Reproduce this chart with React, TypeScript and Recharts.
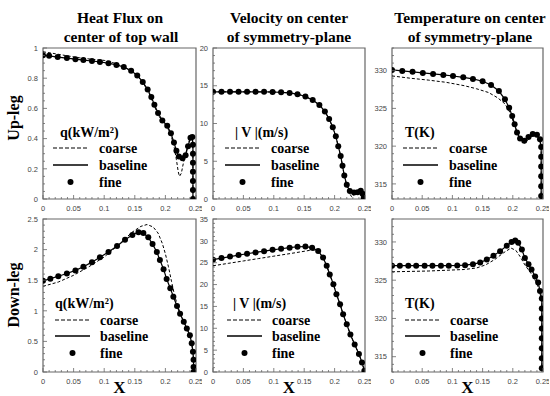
import React from "react";
import { LineChart, Line, XAxis, YAxis, ReferenceArea } from "recharts";

type Pt = [number, number];

// shared x axis (distance along the leg)
const xMajor = [0, 0.05, 0.1, 0.15, 0.2, 0.25];
const xLabels = ["0", "0.05", "0.1", "0.15", "0.2", "0.25"];

// y ticks per panel
const qUpTicks = [0, 0.2, 0.4, 0.6, 0.8, 1];
const qUpLabels = ["0", "0.2", "0.4", "0.6", "0.8", "1"];
const vUpTicks = [0, 5, 10, 15, 20];
const vUpLabels = ["0", "5", "10", "15", "20"];
const tTicks = [315, 320, 325, 330];
const tLabels = ["315", "320", "325", "330"];
const qDownTicks = [0, 0.5, 1, 1.5, 2, 2.5];
const qDownLabels = ["0", "0.5", "1", "1.5", "2", "2.5"];
const vDownTicks = [0, 5, 10, 15, 20, 25, 30, 35];
const vDownLabels = ["0", "5", "10", "15", "20", "25", "30", "35"];

// Up-leg heat flux q (kW/m2)
const upQCoarse: Pt[] = [
  [0, 0.975], [0.02, 0.962], [0.04, 0.948], [0.06, 0.935], [0.08, 0.925], [0.1, 0.918],
  [0.12, 0.896], [0.14, 0.858], [0.155, 0.812], [0.165, 0.76], [0.175, 0.685], [0.183, 0.605],
  [0.19, 0.545], [0.2, 0.49], [0.208, 0.44], [0.214, 0.35], [0.218, 0.26], [0.221, 0.18],
  [0.223, 0.15], [0.226, 0.17], [0.23, 0.25], [0.235, 0.33], [0.24, 0.4], [0.244, 0.41],
  [0.245, 0.3], [0.245, 0],
];
const upQFine: Pt[] = [
  [0, 0.952], [0.01, 0.948], [0.024, 0.94], [0.039, 0.933], [0.053, 0.926], [0.066, 0.92],
  [0.08, 0.914], [0.093, 0.908], [0.107, 0.899], [0.12, 0.888], [0.132, 0.874], [0.144, 0.85],
  [0.154, 0.818], [0.163, 0.775], [0.171, 0.725], [0.177, 0.675], [0.182, 0.625], [0.188, 0.57],
  [0.195, 0.52], [0.203, 0.485], [0.209, 0.435], [0.214, 0.375], [0.218, 0.32], [0.222, 0.282],
  [0.228, 0.27], [0.233, 0.29], [0.237, 0.35], [0.241, 0.405], [0.244, 0.41], [0.245, 0.36],
  [0.245, 0.3], [0.245, 0.24], [0.245, 0.18], [0.245, 0.12], [0.245, 0.06], [0.245, 0],
];

// Up-leg velocity |V| (m/s)
const upVCoarse: Pt[] = [
  [0, 14.2], [0.03, 14.2], [0.06, 14.2], [0.09, 14.18], [0.112, 14.13], [0.126, 14.05],
  [0.139, 13.88], [0.152, 13.58], [0.164, 13.1], [0.175, 12.45], [0.184, 11.6], [0.191, 10.6],
  [0.197, 9.5], [0.202, 8.3], [0.206, 7.0], [0.21, 5.7], [0.213, 4.4], [0.216, 3.0],
  [0.22, 1.8], [0.224, 0.8], [0.228, 0.3], [0.233, 0.6], [0.238, 0.85], [0.243, 1.05],
  [0.246, 0.6], [0.248, 0],
];
const upVFine: Pt[] = [
  [0, 14.2], [0.014, 14.2], [0.028, 14.2], [0.042, 14.2], [0.056, 14.2], [0.07, 14.2],
  [0.084, 14.19], [0.098, 14.17], [0.112, 14.13], [0.126, 14.05], [0.139, 13.88], [0.152, 13.58],
  [0.164, 13.1], [0.175, 12.45], [0.184, 11.6], [0.191, 10.6], [0.197, 9.5], [0.202, 8.3],
  [0.206, 7.0], [0.21, 5.7], [0.213, 4.4], [0.216, 3.1], [0.22, 1.9], [0.225, 1.05],
  [0.232, 0.85], [0.238, 0.9], [0.243, 1.1], [0.246, 0.7], [0.248, 0.2], [0.248, 0],
];

// Up-leg temperature T (K)
const upTCoarse: Pt[] = [
  [0, 329.3], [0.03, 329.0], [0.06, 328.75], [0.09, 328.45], [0.12, 328.0], [0.14, 327.6],
  [0.16, 327.1], [0.175, 326.4], [0.187, 325.6], [0.195, 324.5], [0.202, 323.0], [0.208, 321.6],
  [0.213, 320.8], [0.219, 320.4], [0.226, 320.9], [0.233, 321.4], [0.24, 321.4], [0.245, 320.7],
  [0.247, 319.5], [0.247, 313],
];
const upTFine: Pt[] = [
  [0, 330.1], [0.017, 329.97], [0.034, 329.84], [0.051, 329.7], [0.068, 329.57], [0.085, 329.43],
  [0.101, 329.29], [0.118, 329.12], [0.134, 328.9], [0.15, 328.6], [0.164, 328.1], [0.177, 327.3],
  [0.187, 326.2], [0.194, 325.1], [0.199, 324.0], [0.203, 322.9], [0.207, 321.8], [0.212, 321.0],
  [0.219, 320.7], [0.226, 321.2], [0.233, 321.6], [0.24, 321.5], [0.245, 320.9], [0.247, 319.9],
  [0.247, 318.6], [0.247, 317.3], [0.247, 316.0], [0.247, 314.7], [0.247, 313.4],
];

// Down-leg heat flux q (kW/m2)
const downQCoarse: Pt[] = [
  [0, 1.4], [0.025, 1.47], [0.05, 1.58], [0.075, 1.72], [0.1, 1.88], [0.125, 2.09],
  [0.145, 2.28], [0.16, 2.38], [0.17, 2.41], [0.18, 2.37], [0.188, 2.27], [0.195, 2.1],
  [0.2, 1.93], [0.205, 1.72], [0.21, 1.48], [0.215, 1.25], [0.22, 1.08], [0.225, 0.94],
  [0.23, 0.82], [0.236, 0.69], [0.241, 0.56], [0.244, 0.4], [0.246, 0.2], [0.246, 0],
];
const downQFine: Pt[] = [
  [0, 1.49], [0.012, 1.525], [0.025, 1.565], [0.039, 1.61], [0.053, 1.66], [0.066, 1.72],
  [0.08, 1.795], [0.093, 1.875], [0.107, 1.96], [0.121, 2.06], [0.134, 2.16], [0.146, 2.24],
  [0.156, 2.285], [0.164, 2.27], [0.172, 2.2], [0.179, 2.09], [0.186, 1.96], [0.191, 1.83],
  [0.197, 1.68], [0.202, 1.52], [0.208, 1.37], [0.213, 1.23], [0.219, 1.08], [0.224, 0.95],
  [0.23, 0.82], [0.235, 0.71], [0.24, 0.6], [0.243, 0.47], [0.245, 0.33], [0.246, 0.2],
  [0.246, 0.08], [0.246, 0],
];

// Down-leg velocity |V| (m/s)
const downVCoarse: Pt[] = [
  [0, 24.3], [0.025, 24.85], [0.05, 25.4], [0.075, 25.95], [0.1, 26.5], [0.125, 27.05],
  [0.145, 27.5], [0.16, 27.85], [0.168, 27.85], [0.175, 27.3], [0.181, 26.1], [0.187, 24.3],
  [0.192, 22.3], [0.198, 20.1], [0.203, 17.8], [0.209, 15.5], [0.214, 13.2], [0.22, 10.9],
  [0.226, 8.6], [0.233, 6.3], [0.24, 4.1], [0.245, 2.2], [0.249, 0.3],
];
const downVFine: Pt[] = [
  [0, 25.7], [0.014, 26.05], [0.028, 26.4], [0.042, 26.75], [0.056, 27.05], [0.07, 27.35],
  [0.084, 27.65], [0.098, 27.95], [0.112, 28.2], [0.126, 28.45], [0.139, 28.65], [0.152, 28.7],
  [0.163, 28.45], [0.173, 27.7], [0.181, 26.2], [0.187, 24.3], [0.192, 22.3], [0.198, 20.1],
  [0.203, 17.8], [0.209, 15.5], [0.214, 13.2], [0.22, 10.9], [0.226, 8.6], [0.233, 6.3],
  [0.24, 4.1], [0.245, 2.2], [0.249, 0.3],
];

// Down-leg temperature T (K)
const downTCoarse: Pt[] = [
  [0, 326.1], [0.03, 326.15], [0.06, 326.2], [0.09, 326.3], [0.12, 326.4], [0.14, 326.6],
  [0.155, 327.0], [0.17, 327.7], [0.185, 328.6], [0.197, 329.2], [0.205, 328.9], [0.212, 328.1],
  [0.22, 327.0], [0.23, 325.9], [0.24, 324.6], [0.245, 323.3], [0.248, 322.0], [0.248, 313],
];
const downTFine: Pt[] = [
  [0, 326.9], [0.013, 326.9], [0.027, 326.9], [0.04, 326.9], [0.054, 326.9], [0.067, 326.9],
  [0.081, 326.9], [0.094, 326.9], [0.108, 326.92], [0.121, 326.97], [0.134, 327.1], [0.146, 327.3],
  [0.157, 327.7], [0.168, 328.2], [0.179, 328.8], [0.19, 329.5], [0.198, 330.0], [0.204, 330.2],
  [0.209, 329.9], [0.215, 329.0], [0.22, 327.9], [0.226, 327.1], [0.231, 326.4], [0.237, 325.5],
  [0.242, 324.7], [0.245, 323.6], [0.248, 322.6], [0.248, 321.3], [0.248, 320.0], [0.248, 318.7],
  [0.248, 317.4], [0.248, 316.1], [0.248, 314.8], [0.248, 313.5],
];

const SERIF = '"Liberation Serif", "Times New Roman", serif';
const SANS = '"Liberation Sans", Arial, sans-serif';
const FRAME = "#666";

const toRows = (pts: Pt[]) => pts.map(([x, y]) => ({ x, y }));

// minor tick positions (style only)
const minorTicks = (lo: number, hi: number, step: number) => {
  const out: number[] = [];
  const n = Math.round((hi - lo) / step);
  for (let i = 0; i <= n; i++) out.push(+(lo + i * step).toFixed(4));
  return out;
};

const xAll = minorTicks(0, 0.25, 0.01);

const findMajor = (major: number[], v: number) => major.findIndex((m) => Math.abs(m - v) < 1e-6);

const makeXTick = (major: number[], labels: string[]) => (props: any) => {
  const { x, y, payload } = props;
  const i = findMajor(major, payload.value);
  return (
    <g>
      <line x1={x} x2={x} y1={y} y2={y - (i >= 0 ? 4 : 2)} stroke={FRAME} strokeWidth={0.8} />
      {i >= 0 && (
        <text x={x} y={y + 12} textAnchor="middle" fontSize={7.5} fill="#444" fontFamily={SANS}>
          {labels[i]}
        </text>
      )}
    </g>
  );
};

const makeYTick = (major: number[], labels: string[]) => (props: any) => {
  const { x, y, payload } = props;
  const i = findMajor(major, payload.value);
  return (
    <g>
      <line x1={x} x2={x + (i >= 0 ? 4 : 2)} y1={y} y2={y} stroke={FRAME} strokeWidth={0.8} />
      {i >= 0 && (
        <text x={x - 5} y={y + 2.7} textAnchor="end" fontSize={7.5} fill="#444" fontFamily={SANS}>
          {labels[i]}
        </text>
      )}
    </g>
  );
};

interface PanelProps {
  left: number;
  top: number;
  w: number;
  h: number;
  yDomain: [number, number];
  yMajor: number[];
  yLabels: string[];
  yStep: number;
  coarse: Pt[];
  fine: Pt[];
}

const YW = 34;
const XH = 18;
const M = 6;

function Panel({ left, top, w, h, yDomain, yMajor, yLabels, yStep, coarse, fine }: PanelProps) {
  const yAll = minorTicks(yDomain[0], yDomain[1], yStep);
  return (
    <div style={{ position: "absolute", left: left - YW, top: top - M }}>
      <LineChart width={YW + w + M} height={M + h + XH} margin={{ top: M, right: M, bottom: 0, left: 0 }}>
        <XAxis
          type="number"
          dataKey="x"
          domain={[0, 0.25]}
          allowDataOverflow
          ticks={xAll}
          interval={0}
          height={XH}
          axisLine={false}
          tickLine={false}
          tickSize={0}
          tickMargin={0}
          tick={makeXTick(xMajor, xLabels)}
        />
        <YAxis
          type="number"
          dataKey="y"
          domain={yDomain}
          allowDataOverflow
          ticks={yAll}
          interval={0}
          width={YW}
          axisLine={false}
          tickLine={false}
          tickSize={0}
          tickMargin={0}
          tick={makeYTick(yMajor, yLabels)}
        />
        <ReferenceArea x1={0} x2={0.25} y1={yDomain[0]} y2={yDomain[1]} fill="none" stroke={FRAME} strokeWidth={1.2} />
        <Line name="coarse" data={toRows(coarse)} dataKey="y" stroke="#000" strokeWidth={1} strokeDasharray="3 2" dot={false} isAnimationActive={false} />
        {/* baseline coincides with the fine-grid curve */}
        <Line name="baseline" data={toRows(fine)} dataKey="y" stroke="#000" strokeWidth={1.2} dot={false} isAnimationActive={false} />
        <Line name="fine" data={toRows(fine)} dataKey="y" stroke="none" dot={{ r: 3, fill: "#000", stroke: "none" }} isAnimationActive={false} />
      </LineChart>
    </div>
  );
}

function LegendBlock({ title, tx, ty, rows, x1, x2, textX }: { title: string; tx: number; ty: number; rows: number[]; x1: number; x2: number; textX: number }) {
  const font = { fontFamily: SERIF, fontWeight: 700, fontSize: 14 } as const;
  return (
    <g>
      <text x={tx} y={ty} dominantBaseline="central" {...font}>{title}</text>
      <line x1={x1} x2={x2} y1={rows[0]} y2={rows[0]} stroke="#000" strokeWidth={1.2} strokeDasharray="4 2" />
      <text x={textX} y={rows[0]} dominantBaseline="central" {...font}>coarse</text>
      <line x1={x1} x2={x2} y1={rows[1]} y2={rows[1]} stroke="#000" strokeWidth={1.4} />
      <text x={textX} y={rows[1]} dominantBaseline="central" {...font}>baseline</text>
      <circle cx={(x1 + x2) / 2} cy={rows[2]} r={3} fill="#000" />
      <text x={textX} y={rows[2]} dominantBaseline="central" {...font}>fine</text>
    </g>
  );
}

const topRows = [148, 165, 182];
const botRows = [320, 336, 353];

export default function App() {
  const title = { fontFamily: SERIF, fontWeight: 700, fontSize: 15.5, textAnchor: "middle" as const };
  const xLab = { fontFamily: SERIF, fontWeight: 700, fontSize: 17, textAnchor: "middle" as const };
  return (
    <div style={{ position: "absolute", left: 0, top: 0, width: 550, height: 396, background: "#fff", overflow: "hidden" }}>
      <Panel left={43} top={48} w={153} h={151} yDomain={[0, 1]} yMajor={qUpTicks} yLabels={qUpLabels} yStep={0.05} coarse={upQCoarse} fine={upQFine} />
      <Panel left={213} top={48} w={152} h={151} yDomain={[0, 20]} yMajor={vUpTicks} yLabels={vUpLabels} yStep={1} coarse={upVCoarse} fine={upVFine} />
      <Panel left={392} top={48} w={151} h={151} yDomain={[313, 333]} yMajor={tTicks} yLabels={tLabels} yStep={1} coarse={upTCoarse} fine={upTFine} />
      <Panel left={43} top={219} w={153} h={153} yDomain={[0, 2.5]} yMajor={qDownTicks} yLabels={qDownLabels} yStep={0.1} coarse={downQCoarse} fine={downQFine} />
      <Panel left={213} top={219} w={152} h={153} yDomain={[0, 35]} yMajor={vDownTicks} yLabels={vDownLabels} yStep={1} coarse={downVCoarse} fine={downVFine} />
      <Panel left={392} top={219} w={151} h={153} yDomain={[313, 333]} yMajor={tTicks} yLabels={tLabels} yStep={1} coarse={downTCoarse} fine={downTFine} />
      <svg width={550} height={396} style={{ position: "absolute", left: 0, top: 0, pointerEvents: "none" }}>
        <text x={120} y={22.5} {...title}>Heat Flux on</text>
        <text x={121} y={42} {...title}>center of top wall</text>
        <text x={289} y={22.5} {...title}>Velocity on center</text>
        <text x={289} y={42} {...title}>of symmetry-plane</text>
        <text x={470} y={22.5} {...title}>Temperature on center</text>
        <text x={470} y={42} {...title}>of symmetry-plane</text>

        <text x={13} y={118} transform="rotate(-90 13 118)" dominantBaseline="central" fontFamily={SERIF} fontWeight={700} fontSize={16} textAnchor="middle">Up-leg</text>
        <text x={13} y={295} transform="rotate(-90 13 295)" dominantBaseline="central" fontFamily={SERIF} fontWeight={700} fontSize={16} textAnchor="middle">Down-leg</text>

        <text x={119.5} y={393} {...xLab}>X</text>
        <text x={289} y={393} {...xLab}>X</text>
        <text x={467.5} y={393} {...xLab}>X</text>

        <LegendBlock title="q(kW/m²)" tx={60} ty={132} rows={topRows} x1={53} x2={88} textX={99} />
        <LegendBlock title="| V |(m/s)" tx={235} ty={132} rows={topRows} x1={225} x2={260} textX={271} />
        <LegendBlock title="T(K)" tx={405} ty={132} rows={topRows} x1={403} x2={438} textX={449} />
        <LegendBlock title="q(kW/m²)" tx={55} ty={303} rows={botRows} x1={55} x2={90} textX={100} />
        <LegendBlock title="| V |(m/s)" tx={233} ty={303} rows={botRows} x1={227} x2={262} textX={272} />
        <LegendBlock title="T(K)" tx={405} ty={303} rows={botRows} x1={405} x2={440} textX={450} />
      </svg>
    </div>
  );
}
